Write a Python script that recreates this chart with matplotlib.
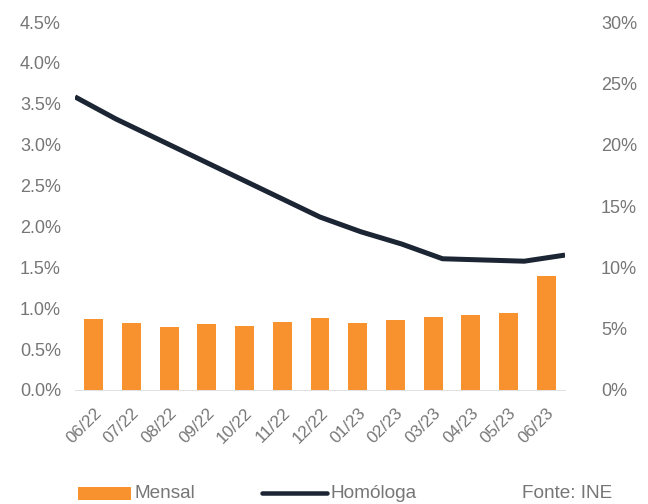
import numpy as np
import matplotlib.pyplot as plt
from matplotlib.patches import Rectangle
from matplotlib.lines import Line2D
from matplotlib.ticker import FuncFormatter

plt.rcParams['font.family'] = ['Liberation Sans', 'DejaVu Sans']

# monthly change (%) and year-on-year change (%)
meses = ['06/22', '07/22', '08/22', '09/22', '10/22', '11/22', '12/22',
         '01/23', '02/23', '03/23', '04/23', '05/23', '06/23']
mensal = [0.87, 0.82, 0.77, 0.81, 0.78, 0.83, 0.88, 0.82, 0.85, 0.89, 0.92, 0.94, 1.39]
homologa = [23.9, 22.1, 20.5, 18.9, 17.3, 15.7, 14.1, 12.9, 11.9, 10.7, 10.6, 10.5, 11.0]

orange = '#f7922e'
navy = '#1c2533'
gray = '#767676'

fig = plt.figure(figsize=(9, 7), dpi=72)
ax = fig.add_axes([0.1157, 0.2262, 0.7563, 0.7301])

x = np.arange(len(meses))
ax.bar(x, mensal, width=0.5, color=orange, zorder=2)
ax.set_xlim(-0.5, len(meses) - 0.5)
ax.set_ylim(0, 4.5)
ax.set_yticks(np.arange(0, 4.51, 0.5))
ax.yaxis.set_major_formatter(FuncFormatter(lambda v, p: f'{v:.1f}%'))
ax.set_xticks(x)
ax.set_xticklabels(meses, rotation=45, ha='right', rotation_mode='anchor',
                   fontsize=17, color=gray)
ax.tick_params(axis='x', length=0, pad=15)
ax.tick_params(axis='y', length=0, pad=14, labelsize=18, labelcolor=gray)
for s in ['top', 'right', 'left']:
    ax.spines[s].set_visible(False)
ax.spines['bottom'].set_color('#d9d9d9')

# line on secondary axis, points on the category edges
ax2 = ax.twinx()
xl = np.linspace(-0.5, len(meses) - 0.5, len(meses))
ax2.plot(xl, homologa, color=navy, lw=5, solid_capstyle='butt', zorder=3)
ax2.set_xlim(-0.5, len(meses) - 0.5)
ax2.set_ylim(0, 30)
ax2.set_yticks(np.arange(0, 31, 5))
ax2.yaxis.set_major_formatter(FuncFormatter(lambda v, p: f'{v:.0f}%'))
ax2.tick_params(axis='y', length=0, pad=36, labelsize=18, labelcolor=gray)
for s in ['top', 'right', 'left', 'bottom']:
    ax2.spines[s].set_visible(False)

# legend along the bottom
ly = 1 - 493 / 504
fig.add_artist(Rectangle((78 / 648, ly - 6 / 504), 52 / 648, 12 / 504,
                         transform=fig.transFigure, color=orange))
fig.text(135 / 648, ly, 'Mensal', fontsize=19, color=gray, va='center')
fig.add_artist(Line2D([262 / 648, 327 / 648], [ly, ly], transform=fig.transFigure,
                      color=navy, lw=4.5, solid_capstyle='round'))
fig.text(330 / 648, ly, 'Homóloga', fontsize=19, color=gray, va='center')
fig.text(522 / 648, ly, 'Fonte: INE', fontsize=19, color=gray, va='center')

fig.savefig('out.png', dpi=72)
